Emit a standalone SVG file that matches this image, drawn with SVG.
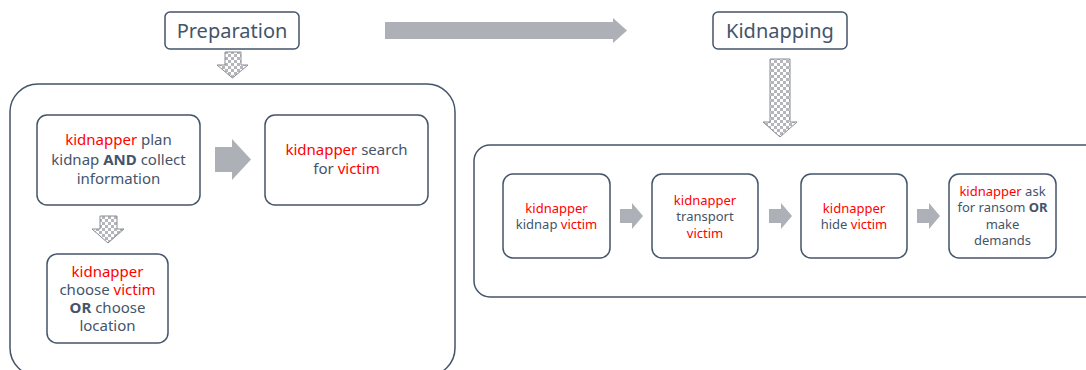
<svg xmlns="http://www.w3.org/2000/svg" width="1086" height="370" viewBox="0 0 1086 370">
<defs>
<pattern id="chk" width="6" height="6" patternUnits="userSpaceOnUse">
<rect width="6" height="6" fill="#ffffff"/>
<rect width="3" height="3" fill="#b4b6bb"/>
<rect x="3" y="3" width="3" height="3" fill="#b4b6bb"/>
</pattern>
<style>
.cont{fill:#ffffff;stroke:#44546A;stroke-width:1.5}
.node{fill:#ffffff;stroke:#44546A;stroke-width:1.5}
.t{font-family:"Noto Sans","Open Sans",sans-serif;fill:#44546A;text-anchor:middle}
.big{font-size:20px}
.m{font-size:15px}
.s{font-size:13px}
.r{fill:#FF0000}
.b{font-weight:bold}
.garrow{fill:#ADB0B6}
.carrow{fill:url(#chk);stroke:#8a8d93;stroke-width:1}
</style>
</defs>
<rect width="1086" height="370" fill="#ffffff"/>

<g id="containers">
<rect class="cont" x="10" y="84" width="445" height="292" rx="28"/>
<rect class="cont" x="474" y="145" width="640" height="152" rx="16"/>
</g>

<g id="connectors">
<path class="garrow" d="M385,22 H613 V18 L627,30.5 L613,43 V39 H385 Z"/>
<path class="carrow" d="M225,52 H241 V65 H248 L232.5,78 L217,65 H225 Z"/>
<path class="carrow" d="M770,59 H790 V122 H797 L780,137 L763,122 H770 Z"/>
<path class="garrow" d="M215,147 H232 V139 L251,159.5 L232,180 V172 H215 Z"/>
<path class="carrow" d="M100,216 H117 V229 H124 L108,243 L92,229 H100 Z"/>
<path class="garrow" d="M620,209 H632 V203 L643,216 L632,229 V223 H620 Z"/>
<path class="garrow" d="M769,209 H781 V203 L792,216 L781,229 V223 H769 Z"/>
<path class="garrow" d="M917,209 H929 V203 L940,216 L929,229 V223 H917 Z"/>
</g>

<g id="preparation">
<rect class="node" x="165" y="12" width="134" height="37" rx="5"/>
<text class="t big" x="232" y="38">Preparation</text>
</g>

<g id="kidnapping">
<rect class="node" x="713" y="12" width="134" height="37" rx="5"/>
<text class="t big" x="780" y="38">Kidnapping</text>
</g>

<g id="plan">
<rect class="node" x="37" y="115" width="163" height="90" rx="10"/>
<text class="t m" x="118.5" y="145"><tspan class="r">kidnapper</tspan> plan</text>
<text class="t m" x="118.5" y="165">kidnap <tspan class="b">AND</tspan> collect</text>
<text class="t m" x="118.5" y="184">information</text>
</g>

<g id="search">
<rect class="node" x="265" y="115" width="163" height="90" rx="10"/>
<text class="t m" x="346.5" y="155"><tspan class="r">kidnapper</tspan> search</text>
<text class="t m" x="346.5" y="174">for <tspan class="r">victim</tspan></text>
</g>

<g id="choose">
<rect class="node" x="47" y="254" width="121" height="89" rx="10"/>
<text class="t m" x="107.5" y="277"><tspan class="r">kidnapper</tspan></text>
<text class="t m" x="107.5" y="295">choose <tspan class="r">victim</tspan></text>
<text class="t m" x="107.5" y="313"><tspan class="b">OR</tspan> choose</text>
<text class="t m" x="107.5" y="331">location</text>
</g>

<g id="kidnap">
<rect class="node" x="503" y="174" width="107" height="84" rx="10"/>
<text class="t s" x="556.5" y="212.5"><tspan class="r">kidnapper</tspan></text>
<text class="t s" x="556.5" y="229">kidnap <tspan class="r">victim</tspan></text>
</g>

<g id="transport">
<rect class="node" x="652" y="174" width="106" height="84" rx="10"/>
<text class="t s" x="705" y="204.5"><tspan class="r">kidnapper</tspan></text>
<text class="t s" x="705" y="221">transport</text>
<text class="t s" x="705" y="237.5"><tspan class="r">victim</tspan></text>
</g>

<g id="hide">
<rect class="node" x="801" y="174" width="106" height="84" rx="10"/>
<text class="t s" x="854" y="212.5"><tspan class="r">kidnapper</tspan></text>
<text class="t s" x="854" y="229">hide <tspan class="r">victim</tspan></text>
</g>

<g id="ransom">
<rect class="node" x="949" y="174" width="107" height="84" rx="10"/>
<text class="t s" x="1002.5" y="195.5"><tspan class="r">kidnapper</tspan> ask</text>
<text class="t s" x="1002.5" y="212">for ransom <tspan class="b">OR</tspan></text>
<text class="t s" x="1002.5" y="228.5">make</text>
<text class="t s" x="1002.5" y="245">demands</text>
</g>
</svg>
